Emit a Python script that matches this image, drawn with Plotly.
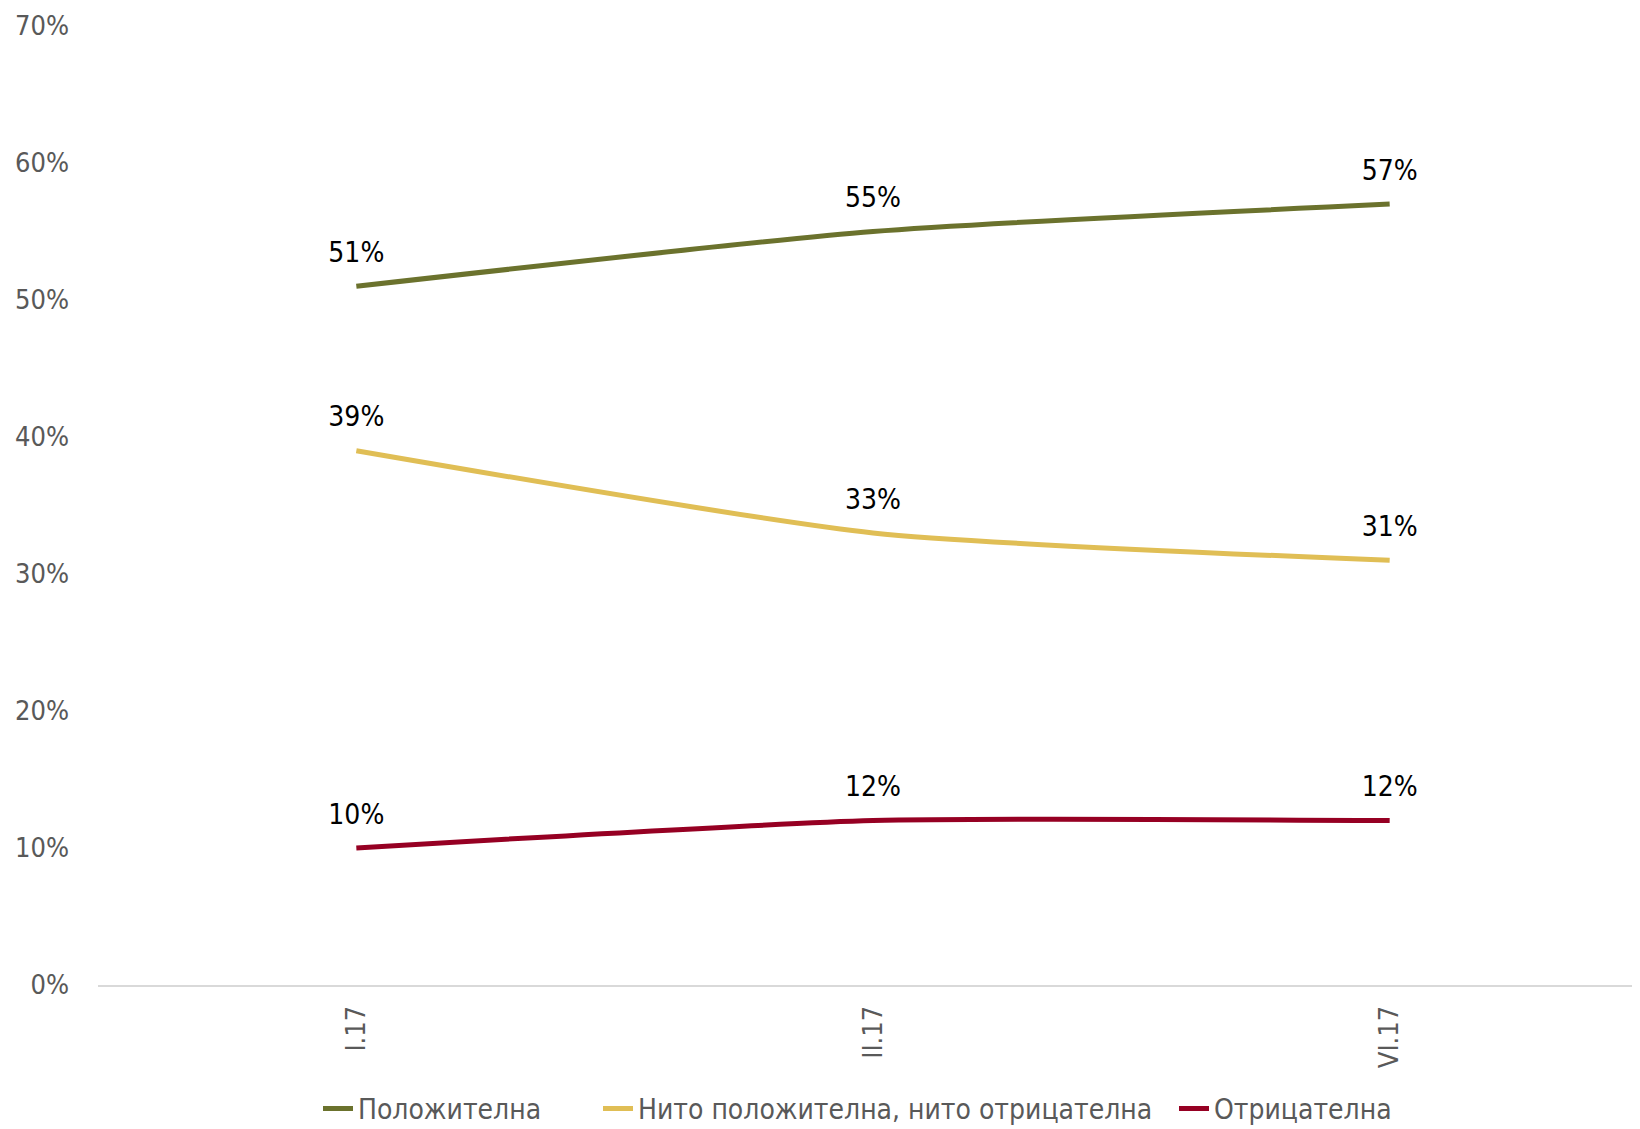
import plotly.graph_objects as go

categories = ["I.17", "II.17", "VI.17"]
series_names = ["Положителна", "Нито положителна, нито отрицателна", "Отрицателна"]
positive = [0.51, 0.55, 0.57]
neutral = [0.39, 0.33, 0.31]
negative = [0.10, 0.12, 0.12]
colors = ["#6B722D", "#E0BE55", "#960023"]

FONT = "DejaVu Sans Condensed, Liberation Sans, sans-serif"

def f(size, color):
    return dict(family=FONT, size=size, color=color)

legend_names = ["legend", "legend2", "legend3"]
legend_x = [310, 590, 1166]

fig = go.Figure()
for name, vals, col, lg in zip(series_names, [positive, neutral, negative], colors, legend_names):
    fig.add_trace(go.Scatter(
        x=categories, y=vals, name=name, mode="lines+markers+text",
        line=dict(color=col, width=5, shape="spline", smoothing=0.6),
        marker=dict(size=26, color="rgba(0,0,0,0)"),
        text=[f"{round(v*100)}%" for v in vals],
        textposition="top center",
        textfont=f(28, "#000000"),
        legend=lg,
    ))

layout_legends = {}
for lg, px in zip(legend_names, legend_x):
    layout_legends[lg] = dict(
        orientation="h", xref="container", x=px / 1640, xanchor="left",
        yref="container", y=0.025, yanchor="middle",
        font=f(28, "#595959"), itemwidth=30, bgcolor="rgba(0,0,0,0)",
    )

fig.update_layout(
    width=1640, height=1129,
    margin=dict(l=90, r=0, t=18, b=152),
    paper_bgcolor="white", plot_bgcolor="white",
    font=dict(family=FONT, color="#595959"),
    showlegend=True,
    xaxis=dict(type="category", range=[-0.5, 2.5], showgrid=False, showline=True,
               linecolor="#D9D9D9", linewidth=2, tickangle=-90, ticks="",
               tickfont=f(27, "#595959"), ticklabelstandoff=8),
    yaxis=dict(range=[0, 0.7], dtick=0.1, tickformat=".0%", showgrid=False, zeroline=False,
               showline=False, ticks="", tickfont=f(27, "#595959"),
               ticklabelstandoff=28),
    **layout_legends,
)

fig.write_html("out.html")
